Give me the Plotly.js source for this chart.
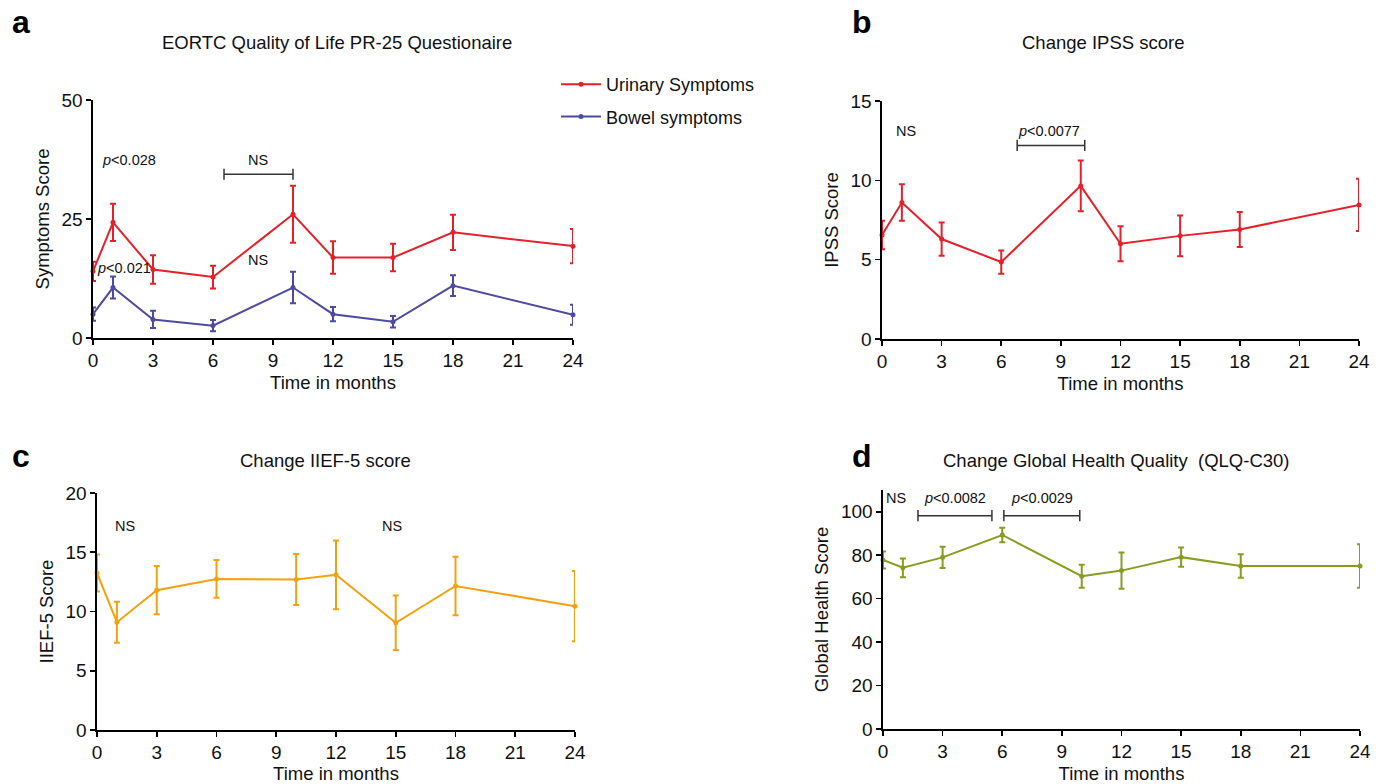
<!DOCTYPE html>
<html>
<head>
<meta charset="utf-8">
<script src="https://cdn.plot.ly/plotly-3.0.1.min.js"></script>
<style>html,body{margin:0;padding:0;background:#fff;}#chart{width:1389px;height:784px;}</style>
</head>
<body>
<div id="chart"></div>
<script>
// ---- data ----
const months = [0, 1, 3, 6, 10, 12, 15, 18, 24];
const xTicks = [0, 3, 6, 9, 12, 15, 18, 21, 24];

const urinary = [14.0, 24.3, 14.4, 12.8, 26.0, 16.9, 16.9, 22.2, 19.3];
const urinaryErr = [2.0, 3.9, 3.0, 2.4, 6.0, 3.4, 2.9, 3.7, 3.6];
const bowel = [5.0, 10.6, 3.9, 2.6, 10.6, 5.0, 3.4, 11.0, 4.9];
const bowelErr = [1.4, 2.3, 1.8, 1.2, 3.3, 1.5, 1.2, 2.2, 2.1];

const ipss = [6.55, 8.6, 6.3, 4.85, 9.65, 6.0, 6.5, 6.9, 8.45];
const ipssErr = [0.9, 1.15, 1.05, 0.73, 1.6, 1.1, 1.28, 1.1, 1.65];

const iief = [13.25, 9.1, 11.8, 12.75, 12.7, 13.1, 9.05, 12.15, 10.45];
const iiefErr = [1.57, 1.73, 2.04, 1.59, 2.15, 2.9, 2.3, 2.46, 2.97];

const ghq = [77.8, 74.2, 79.0, 89.3, 70.3, 72.9, 79.1, 75.0, 75.0];
const ghqErr = [3.9, 4.3, 4.9, 3.3, 5.3, 8.3, 4.4, 5.4, 10.0];

// significance labels: [panel, x, y, text]
const statLabels = [
  ['a', 1.78, 37.5, '<i>p</i>&lt;0.028'],
  ['a', 1.55, 14.7, '<i>p</i>&lt;0.021'],
  ['a', 8.25, 37.3, 'NS'],
  ['a', 8.25, 16.4, 'NS'],
  ['b', 1.2, 13.1, 'NS'],
  ['b', 8.4, 13.1, '<i>p</i>&lt;0.0077'],
  ['c', 1.4, 17.2, 'NS'],
  ['c', 14.8, 17.2, 'NS'],
  ['d', 0.65, 106.5, 'NS'],
  ['d', 3.6, 106.5, '<i>p</i>&lt;0.0082'],
  ['d', 8.0, 106.5, '<i>p</i>&lt;0.0029']
];
// brackets: [panel, xStart, xEnd, y]
const brackets = [
  ['a', 6.55, 10.0, 34.4],
  ['b', 6.8, 10.2, 12.2],
  ['d', 1.76, 5.48, 98.2],
  ['d', 6.08, 9.9, 98.2]
];

const titles = {
  a: 'EORTC Quality of Life PR-25 Questionaire',
  b: 'Change IPSS score',
  c: 'Change IIEF-5 score',
  d: 'Change Global Health Quality  (QLQ-C30)'
};
const yTitles = {a: 'Symptoms Score', b: 'IPSS Score', c: 'IIEF-5 Score', d: 'Global Health Score'};

// ---- styling ----
const FONT = 'Liberation Sans, Arial, Helvetica, sans-serif';
const RED = '#e5202a', BLUE = '#4d4b9f', ORANGE = '#f2a20f', OLIVE = '#8a9b22';
const W = 1389, H = 784;
const axisMap = {a: ['x', 'y'], b: ['x2', 'y2'], c: ['x3', 'y3'], d: ['x4', 'y4']};

function series(x, y, err, color, axes, name, showlegend, group) {
  return {
    type: 'scatter', mode: 'lines+markers', x: x, y: y, name: name,
    xaxis: axes[0], yaxis: axes[1], showlegend: showlegend, legendgroup: group,
    line: {color: color, width: 2},
    marker: {color: color, size: 5, symbol: 'circle'},
    error_y: {type: 'data', array: err, visible: true, color: color, thickness: 2, width: 3},
    cliponaxis: false, hoverinfo: 'x+y'
  };
}

const traces = [
  series(months, urinary, urinaryErr, RED, axisMap.a, 'Urinary Symptoms', true, 'g1'),
  series(months, bowel, bowelErr, BLUE, axisMap.a, 'Bowel symptoms', true, 'g2'),
  series(months, ipss, ipssErr, RED, axisMap.b, 'IPSS', false),
  series(months, iief, iiefErr, ORANGE, axisMap.c, 'IIEF-5', false),
  series(months, ghq, ghqErr, OLIVE, axisMap.d, 'Global Health', false)
];
brackets.forEach(function (b) {
  const ax = axisMap[b[0]];
  traces.push({
    type: 'scatter', mode: 'lines+markers', x: [b[1], b[2]], y: [b[3], b[3]],
    xaxis: ax[0], yaxis: ax[1], showlegend: false, hoverinfo: 'skip',
    line: {color: '#333', width: 1.5},
    marker: {symbol: 'line-ns-open', size: 8, color: '#333', line: {color: '#333', width: 1.5}},
    cliponaxis: false
  });
});

function xAxis(domain, anchor) {
  return {
    domain: domain, anchor: anchor, range: [0, 24], tickvals: xTicks,
    showline: true, linecolor: '#000', linewidth: 1.6, ticks: 'outside', ticklen: 5,
    tickwidth: 1.6, tickcolor: '#000', showgrid: false, zeroline: false,
    tickfont: {family: FONT, size: 19, color: '#111'},
    title: {text: 'Time in months', font: {family: FONT, size: 18.5, color: '#111'}, standoff: 5}
  };
}
function yAxis(domain, anchor, range, ticks, title) {
  return {
    domain: domain, anchor: anchor, range: range, tickvals: ticks,
    showline: true, linecolor: '#000', linewidth: 1.6, ticks: 'outside', ticklen: 5,
    tickwidth: 1.6, tickcolor: '#000', showgrid: false, zeroline: false,
    tickfont: {family: FONT, size: 19, color: '#111'},
    title: {text: title, font: {family: FONT, size: 18.5, color: '#111'}, standoff: 7}
  };
}

const px = v => v / W, py = v => 1 - v / H;

const annotations = [];
statLabels.forEach(function (s) {
  const ax = axisMap[s[0]];
  annotations.push({xref: ax[0], yref: ax[1], x: s[1], y: s[2], text: s[3], showarrow: false,
    xanchor: 'center', yanchor: 'middle', font: {family: FONT, size: 14.5, color: '#111'}});
});
const letterPos = {a: [21, 22], b: [862, 22], c: [21, 456], d: [862, 456]};
const titlePos = {a: [337, 43], b: [1103, 43], c: [325, 460], d: [1116, 460]};
Object.keys(titles).forEach(function (k) {
  annotations.push({xref: 'paper', yref: 'paper', x: px(letterPos[k][0]), y: py(letterPos[k][1]),
    xanchor: 'center', yanchor: 'middle',
    text: '<b>' + k + '</b>', showarrow: false, font: {family: FONT, size: 32, color: '#000'}});
  annotations.push({xref: 'paper', yref: 'paper', x: px(titlePos[k][0]), y: py(titlePos[k][1]),
    xanchor: 'center', yanchor: 'middle',
    text: titles[k], showarrow: false, font: {family: FONT, size: 18.5, color: '#111'}});
});

const layout = {
  width: W, height: H, margin: {l: 0, r: 0, t: 0, b: 0},
  paper_bgcolor: '#fff', plot_bgcolor: '#fff',
  font: {family: FONT, color: '#111'},
  xaxis: xAxis([px(93), px(573)], 'y'),
  yaxis: yAxis([py(338), py(100)], 'x', [0, 50], [0, 25, 50], yTitles.a),
  xaxis2: xAxis([px(882), px(1359)], 'y2'),
  yaxis2: yAxis([py(339), py(101)], 'x2', [0, 15], [0, 5, 10, 15], yTitles.b),
  xaxis3: xAxis([px(97), px(575)], 'y3'),
  yaxis3: yAxis([py(730), py(493)], 'x3', [0, 20], [0, 5, 10, 15, 20], yTitles.c),
  xaxis4: xAxis([px(883), px(1360)], 'y4'),
  yaxis4: yAxis([py(729), py(490)], 'x4', [0, 110], [0, 20, 40, 60, 80, 100], yTitles.d),
  showlegend: true,
  legend: {x: px(556), y: py(66), xanchor: 'left', yanchor: 'top', bgcolor: 'rgba(0,0,0,0)',
    font: {family: FONT, size: 18, color: '#111'}, traceorder: 'grouped', tracegroupgap: 6,
    itemwidth: 40},
  annotations: annotations
};

Plotly.newPlot('chart', traces, layout, {displayModeBar: false, staticPlot: true});
</script>
</body>
</html>
